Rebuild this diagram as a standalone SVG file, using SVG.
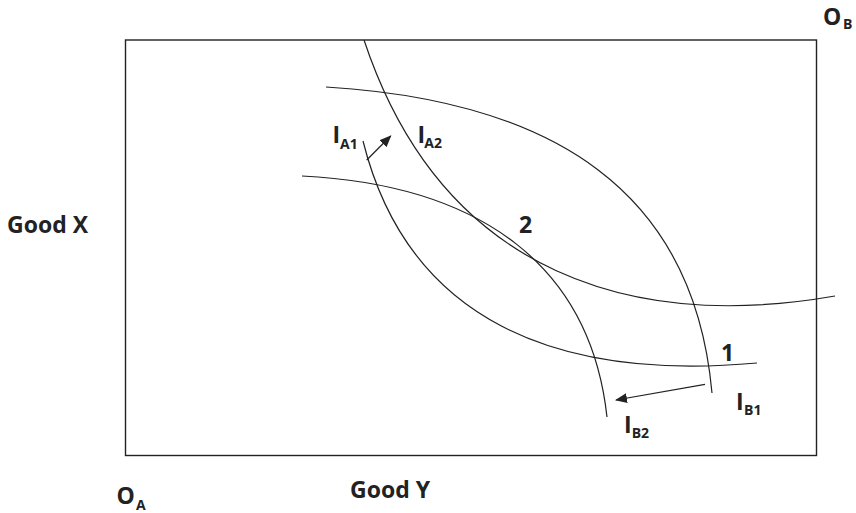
<svg xmlns="http://www.w3.org/2000/svg" width="856" height="513" viewBox="0 0 856 513">
<style>
.crv{fill:none;stroke:#222;stroke-width:1.2}
.box{fill:none;stroke:#222;stroke-width:1.4}
.arr{fill:none;stroke:#222;stroke-width:1.2}
text{font-family:"Open Sans","Liberation Sans",sans-serif;font-weight:bold;fill:#222}
.m{font-size:23px}
.s{font-size:14px}
</style>
<defs>
<marker id="ah" viewBox="0 0 12 10" refX="11" refY="5" markerWidth="12" markerHeight="10" markerUnits="userSpaceOnUse" orient="auto">
<path d="M0,0 L12,5 L0,10 Z" fill="#222"/>
</marker>
</defs>
<rect id="box" class="box" x="125.5" y="40" width="691" height="415.5"/>
<g id="curves">
<path id="IA2" class="crv" d="M364,40 C444,280 640,330 835,296"/>
<path id="IB2" class="crv" d="M302,176 C482,185 590.5,267 607,417"/>
<path id="IA1" class="crv" d="M363,141 C408,321 557,381 757,363"/>
<path id="IB1" class="crv" d="M326,87 C556,101 694,193 712,393"/>
</g>
<g id="connectors">
<line class="arr" x1="366.7" y1="160" x2="390.7" y2="136" marker-end="url(#ah)"/>
<line class="arr" x1="705" y1="384.3" x2="616" y2="400" marker-end="url(#ah)"/>
</g>
<g id="labels">
<text class="m" x="7" y="232.7">Good X</text>
<text class="m" x="350" y="498.3">Good Y</text>
<text class="m" x="116.5" y="504">O</text><text class="s" x="136" y="509.5">A</text>
<text class="m" x="823" y="25">O</text><text class="s" x="843" y="28.5">B</text>
<text class="m" x="519" y="233">2</text>
<text class="m" x="721" y="361">1</text>
<text class="m" x="332.5" y="143.3">I</text><text class="s" x="340" y="149.3">A1</text>
<text class="m" x="417.5" y="142.7">I</text><text class="s" x="424.3" y="148.3">A2</text>
<text class="m" x="736" y="410">I</text><text class="s" x="744" y="414.5">B1</text>
<text class="m" x="624" y="433.3">I</text><text class="s" x="631.7" y="438.3">B2</text>
</g>
</svg>
